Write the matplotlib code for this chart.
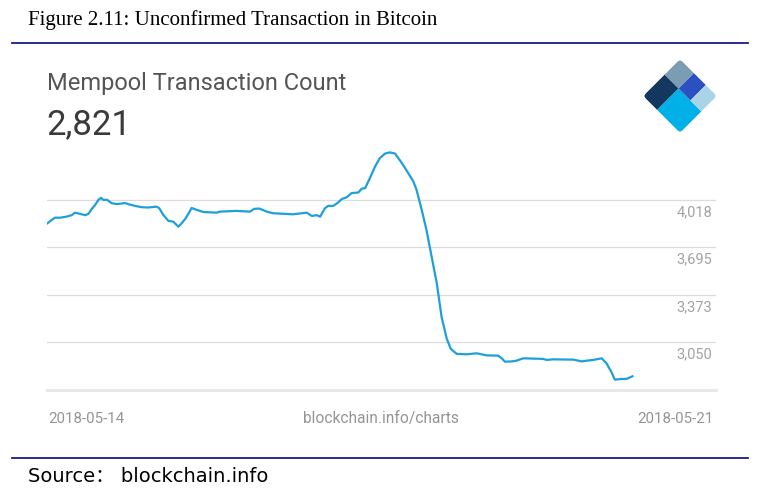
import matplotlib
matplotlib.use("Agg")
import matplotlib.pyplot as plt
from matplotlib.patches import Rectangle, FancyBboxPatch
from matplotlib.transforms import Affine2D

# ---------------- data ----------------
hours = [0.1, 1.2, 2.0, 3.3, 4.9, 6.2, 7.0, 8.3, 9.6, 10.4, 11.2, 12.1, 12.9, 13.6, 14.1,
         15.1, 16.2, 17.5, 19.6, 20.8, 22.1, 23.8, 25.4, 27.5, 28.2, 29.2, 30.5, 31.7, 33.0,
         33.8, 34.7, 35.5, 36.3, 37.6, 39.2, 42.6, 43.4, 47.6, 51.0, 52.0, 53.3, 55.2, 56.8,
         61.8, 65.2, 66.5, 67.7, 68.6, 69.8, 70.6, 71.9, 73.1, 74.0, 75.3, 76.5, 78.2, 79.0,
         79.9, 81.1, 82.4, 83.6, 84.9, 86.1, 87.4, 89.1, 90.7, 92.0, 92.8, 94.1, 95.3, 96.6,
         97.9, 99.1, 100.4, 101.4, 102.9, 105.4, 107.9, 110.4, 113.3, 114.2, 115.0, 116.7,
         117.9, 119.6, 124.6, 125.5, 127.1, 132.2, 134.3, 135.5, 137.2, 139.3, 140.5, 141.8,
         142.6, 143.9, 145.6, 147.0]
counts = [3859, 3882, 3897, 3897, 3904, 3914, 3931, 3923, 3914, 3923, 3955, 3984, 4018, 4032, 4018,
          4018, 3996, 3989, 3996, 3986, 3977, 3968, 3966, 3972, 3961, 3916, 3875, 3870, 3836,
          3859, 3888, 3923, 3963, 3950, 3936, 3931, 3938, 3943, 3938, 3957, 3959, 3938, 3927,
          3920, 3931, 3909, 3914, 3904, 3961, 3977, 3977, 4000, 4023, 4036, 4064, 4068, 4093,
          4098, 4166, 4245, 4302, 4332, 4340, 4332, 4268, 4200, 4143, 4086, 3950, 3813, 3631,
          3450, 3222, 3075, 3007, 2973, 2970, 2977, 2963, 2961, 2943, 2920, 2922,
          2927, 2943, 2939, 2932, 2936, 2934, 2922, 2927, 2932, 2943, 2909, 2847,
          2798, 2802, 2804, 2821]
grid_values = [4018, 3695.5, 3373, 3050.5]
grid_labels = ["4,018", "3,695", "3,373", "3,050"]
baseline_value = 2728
x_start_label = "2018-05-14"
x_end_label = "2018-05-21"
x_span_hours = 168
title = "Figure 2.11: Unconfirmed Transaction in Bitcoin"
chart_title = "Mempool Transaction Count"
current_value = "2,821"
center_note = "blockchain.info/charts"
source = "Source\uff1a blockchain.info"

W, H = 760, 493
fig = plt.figure(figsize=(W / 100, H / 100), dpi=100)
fig.patch.set_facecolor("white")

def fx(x):
    return x / W

def fy(y):
    return 1 - y / H

NAVY = "#1a1a8c"

# header / footer
fig.text(fx(28), fy(25), title, family="Liberation Serif", fontsize=15,
         color="black", ha="left", va="baseline")
fig.add_artist(plt.Line2D([fx(12), fx(748)], [fy(42.5), fy(42.5)], color=NAVY, lw=1.3))
fig.add_artist(plt.Line2D([fx(12), fx(748)], [fy(458), fy(458)], color=NAVY, lw=1.3))
fig.text(fx(28), fy(482), source, family=["DejaVu Sans", "Noto Sans CJK SC"], fontsize=14,
         color="black", ha="left", va="baseline")

fig.text(fx(47), fy(90), chart_title, family="Roboto", fontsize=17, color="#555555",
         ha="left", va="baseline")
fig.text(fx(46), fy(134), current_value, family="Roboto", fontsize=25, color="#3a3a3a",
         ha="left", va="baseline")

# ---------------- main plot ----------------
left_px, right_px = 47, 716
top_px, bot_px = 145, 390
ax = fig.add_axes([fx(left_px), fy(bot_px), (right_px - left_px) / W, (bot_px - top_px) / H])
ax.set_facecolor("none")
v_per_px = (grid_values[0] - grid_values[-1]) / (343 - 200)
ymin = baseline_value
ymax = grid_values[0] + (200 - top_px) * v_per_px
ax.set_xlim(0, x_span_hours)
ax.set_ylim(ymin, ymax)
for s in ax.spines.values():
    s.set_visible(False)
ax.set_xticks([])
ax.set_yticks([])

for v, lab in zip(grid_values, grid_labels):
    ax.axhline(v, color="#dcdcdc", lw=0.9, zorder=1)
    ax.annotate(lab, xy=(1, v), xycoords=("axes fraction", "data"),
                xytext=(-4, -12), textcoords="offset pixels",
                ha="right", va="center", family="Roboto", fontsize=10.5, color="#a3a3a3")
ax.axhline(baseline_value, color="#e8e8e8", lw=2.2, zorder=1, clip_on=False)

ax.plot(hours, counts, color="#1e9fdb", lw=1.6, zorder=3, solid_joinstyle="round")

fig.text(fx(48), fy(423), x_start_label, family="Roboto", fontsize=10.8, color="#959595",
         ha="left", va="baseline")
fig.text(fx(381), fy(423), center_note, family="Roboto", fontsize=11.2, color="#959595",
         ha="center", va="baseline")
fig.text(fx(714), fy(423), x_end_label, family="Roboto", fontsize=10.8, color="#959595",
         ha="right", va="baseline")

# ---------------- logo ----------------
cx, cy, half = 680, 96, 37
lax = fig.add_axes([fx(cx - 45), fy(cy + 45), 90 / W, 90 / H])
lax.set_xlim(cx - 45, cx + 45)
lax.set_ylim(cy - 45, cy + 45)
lax.axis("off")
s = half / 2 ** 0.5
# local square [-1,1]^2 rotated 45 deg: (1,1)=top, (1,-1)=right, (-1,1)=left, (-1,-1)=bottom
tr = Affine2D().rotate_deg(45).scale(s, s).translate(cx, cy) + lax.transData
clip = FancyBboxPatch((-1, -1), 2, 2, boxstyle="round,pad=0,rounding_size=0.16",
                      transform=tr, facecolor="none", edgecolor="none")
lax.add_patch(clip)
us, vs, vl = 0.16, 0.24, -0.40
quads = [
    ((us, vs), 1 - us, 1 - vs, "#7b9db3"),          # top (slate)
    ((-1, vs), 1 + us, 1 - vs, "#13375f"),          # left (navy)
    ((-1, -1), 1 + us, 1 + vs, "#00b0e6"),          # bottom (cyan)
    ((us, vl), 1 - us, vs - vl, "#2c50bf"),         # right upper (blue)
    ((us, -1), 1 - us, 1 + vl, "#a9d3e7"),          # right corner (light)
]
for (x0, y0), w, h, c in quads:
    r = Rectangle((x0, y0), w, h, transform=tr, facecolor=c, edgecolor="none")
    lax.add_patch(r)
    r.set_clip_path(clip)

fig.savefig("out.png", dpi=100, facecolor="white")
